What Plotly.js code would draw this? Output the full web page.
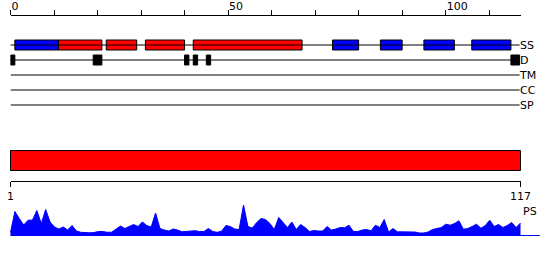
<!DOCTYPE html>
<html><head><meta charset="utf-8">
<script src="https://cdn.plot.ly/plotly-3.0.1.min.js"></script>
<style>html,body{margin:0;padding:0;background:#fff}#chart{width:550px;height:260px}</style>
</head><body><div id="chart"></div>
<script>
// ---------- data ----------
const SEQ_LEN = 117;
const TRACKS = ['SS', 'D', 'TM', 'CC', 'SP'];
// secondary structure segments (H = helix, blue; E = strand, red)
const SS_START = [1, 11, 22, 31, 42, 74, 85, 95, 106];
const SS_END   = [11, 21, 29, 40, 67, 80, 90, 102, 115];
const SS_TYPE  = ['H', 'E', 'E', 'E', 'E', 'H', 'H', 'H', 'H'];
// disorder segments
const D_START = [0, 19, 40, 42, 45, 115];
const D_END   = [1, 21, 41, 43, 46, 117];
// domain bar
const DOM_START = [1];
const DOM_END   = [117];
// ruler
const RULER_TICKS  = [0, 10, 20, 30, 40, 50, 60, 70, 80, 90, 100, 110];
const RULER_LABELS = ['0', '', '', '', '', '50', '', '', '', '', '100', ''];
const SEQ_TICKS = [1, 117];
// PS profile, one value per residue 1..117
const PS = [
  3, 24, 17, 10.5, 15.3, 15.5, 25, 12, 26, 13.5,
  8.5, 6.5, 8.5, 5.5, 10, 4.5, 3.2, 2.8, 2.7, 3,
  4, 4, 3.2, 3.3, 6, 9.5, 7, 9, 11, 9,
  13.5, 10, 8.5, 22.5, 7, 5.5, 4.5, 6.5, 5.5, 3.7,
  4, 4.5, 4.8, 4, 4, 7, 4, 3.2, 4.3, 10,
  9, 6.5, 6, 30.5, 9, 7.5, 13, 17, 16, 12,
  6, 18, 13, 8, 13.5, 6, 11, 8, 4, 5,
  4.5, 4.5, 9, 5.5, 6.5, 8, 7.7, 10.3, 4, 4,
  5.5, 6, 4.7, 10.3, 8, 16, 3.5, 7, 3.7, 3.7,
  4, 4, 3.5, 2.5, 2.5, 3.5, 6, 7, 8, 11.3,
  10.3, 12, 14.7, 6.3, 7, 9, 11.3, 7.3, 10, 15.3,
  9, 11, 8, 10, 13, 8, 12.5
];
const SS_COLORS = {H: '#0000ff', E: '#ff0000'};

// ---------- layout helpers ----------
const W = 550, H = 260;
const fx = p => p / W;
const fy = p => 1 - p / H;
const FONT = {family: 'DejaVu Sans, Verdana, sans-serif', size: 11, color: '#000'};
const X0 = 10.5, X1 = 520.5;              // pixel extent of sequence
const K2 = (X1 - X0) / (SEQ_LEN - 1);      // px per residue on bottom scale
const PS_TAIL = 4.4;                       // baseline extension past the end

const traces = [];
// track lines
TRACKS.forEach(t => traces.push({
  type: 'scatter', mode: 'lines', x: [0, SEQ_LEN], y: [t, t],
  line: {color: '#000', width: 1}, xaxis: 'x', yaxis: 'y', hoverinfo: 'skip'
}));
// SS bars
traces.push({
  type: 'bar', orientation: 'h',
  y: SS_START.map(() => 'SS'), base: SS_START, x: SS_START.map((s, i) => SS_END[i] - s),
  width: 0.667,
  marker: {color: SS_TYPE.map(t => SS_COLORS[t]), line: {color: '#000', width: 1}},
  xaxis: 'x', yaxis: 'y'
});
// D bars
traces.push({
  type: 'bar', orientation: 'h',
  y: D_START.map(() => 'D'), base: D_START, x: D_START.map((s, i) => D_END[i] - s),
  width: 0.667,
  marker: {color: '#000', line: {color: '#000', width: 1}},
  xaxis: 'x', yaxis: 'y'
});
// domain bar
traces.push({
  type: 'bar', orientation: 'h',
  y: [0], base: DOM_START, x: DOM_START.map((s, i) => DOM_END[i] - s),
  width: 1,
  marker: {color: '#ff0000', line: {color: '#000', width: 1}},
  xaxis: 'x3', yaxis: 'y2'
});
// PS baseline and area
traces.push({
  type: 'scatter', mode: 'lines', x: [1, SEQ_LEN + PS_TAIL], y: [0, 0],
  line: {color: '#0000ff', width: 1}, xaxis: 'x3', yaxis: 'y3'
});
traces.push({
  type: 'scatter', mode: 'lines', x: PS.map((v, i) => i + 1), y: PS,
  fill: 'tozeroy', fillcolor: '#0000ff',
  line: {color: '#0000ff', width: 1}, xaxis: 'x3', yaxis: 'y3'
});
// carrier for the sequence axis (x2) so that it is drawn
traces.push({
  type: 'scatter', mode: 'markers', x: SEQ_TICKS, y: [0, 0],
  marker: {size: 1, opacity: 0}, xaxis: 'x2', yaxis: 'y4', hoverinfo: 'skip'
});

const layout = {
  width: W, height: H, autosize: false,
  margin: {l: 0, r: 0, t: 0, b: 0, pad: 0},
  paper_bgcolor: '#fff', plot_bgcolor: 'rgba(0,0,0,0)',
  showlegend: false, barmode: 'overlay', font: FONT,
  xaxis: {
    domain: [fx(X0), fx(X1)], range: [0, 117.2],
    side: 'top', anchor: 'free', position: fy(14.5),
    showline: true, linecolor: '#000', linewidth: 1,
    ticks: 'outside', ticklen: 5, tickwidth: 1, tickcolor: '#000',
    tickmode: 'array', tickvals: RULER_TICKS, ticktext: RULER_LABELS,
    ticklabelposition: 'outside right', tickfont: FONT,
    showgrid: false, zeroline: false, fixedrange: true
  },
  yaxis: {
    domain: [fy(120), fy(30)], type: 'category', categoryarray: TRACKS,
    range: [5, -1], anchor: 'free', position: fx(519), side: 'right',
    showline: false, ticks: '', showgrid: false, zeroline: false,
    tickfont: FONT, fixedrange: true
  },
  xaxis2: {
    domain: [fx(X0), fx(X1)], range: [1, SEQ_LEN],
    side: 'bottom', anchor: 'free', position: fy(180.5),
    showline: true, linecolor: '#000', linewidth: 1,
    ticks: 'outside', ticklen: 5, tickwidth: 1, tickcolor: '#000',
    tickmode: 'array', tickvals: SEQ_TICKS, ticktext: SEQ_TICKS.map(String),
    tickfont: FONT, showgrid: false, zeroline: false, fixedrange: true
  },
  xaxis3: {
    domain: [0, 1], range: [1 - X0 / K2, 1 + (W - X0) / K2],
    visible: false, showgrid: false, zeroline: false, fixedrange: true
  },
  yaxis2: {
    domain: [fy(171.5), fy(149.5)], range: [-0.55, 0.55], anchor: 'x3',
    visible: false, showgrid: false, zeroline: false, fixedrange: true
  },
  yaxis3: {
    domain: [fy(236.5), fy(200.5)], range: [-1, 35], anchor: 'x3',
    visible: false, showgrid: false, zeroline: false, fixedrange: true
  },
  yaxis4: {
    domain: [fy(182), fy(180.5)], range: [-1, 1], anchor: 'x2',
    visible: false, showgrid: false, zeroline: false, fixedrange: true
  },
  annotations: [{
    text: 'PS', xref: 'x3', x: SEQ_LEN, xanchor: 'left',
    yref: 'paper', y: fy(211), yanchor: 'middle', showarrow: false, font: FONT
  }]
};

Plotly.newPlot('chart', traces, layout, {staticPlot: true, displayModeBar: false});
</script>
</body></html>
